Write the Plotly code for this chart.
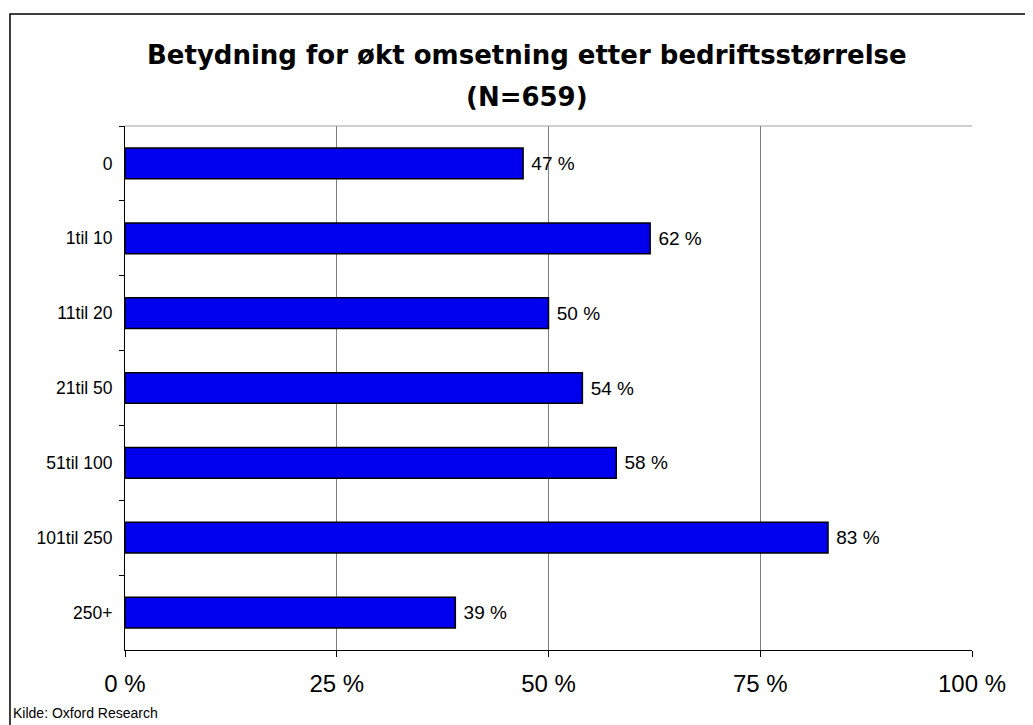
import plotly.graph_objects as go

categories = ["0", "1til 10", "11til 20", "21til 50", "51til 100", "101til 250", "250+"]
values = [47, 62, 50, 54, 58, 83, 39]
x_tickvals = [0, 25, 50, 75, 100]
x_ticktext = ["0 %", "25 %", "50 %", "75 %", "100 %"]
title_line1 = "Betydning for økt omsetning etter bedriftsstørrelse"
title_line2 = "(N=659)"
source_text = "Kilde: Oxford Research"

fig = go.Figure()
fig.add_trace(go.Bar(
    y=categories,
    x=values,
    orientation="h",
    marker=dict(color="#0000EE", line=dict(color="#000000", width=1.5)),
    text=[f" {v} %" for v in values],
    textposition="outside",
    textfont=dict(family="Liberation Sans, Arial", size=19, color="#000000"),
    cliponaxis=False,
    width=0.41,
    hoverinfo="skip",
))

title_font = dict(family="DejaVu Sans", size=26, color="#000000")

fig.update_layout(
    width=1025, height=717,
    margin=dict(l=117, r=61, t=118, b=75),
    paper_bgcolor="white", plot_bgcolor="white",
    showlegend=False,
    font=dict(family="Liberation Sans, Arial", color="#000000"),
    xaxis=dict(range=[0, 100], tickvals=x_tickvals, ticktext=x_ticktext,
               showgrid=True, gridcolor="#808080", gridwidth=1,
               showline=True, linecolor="#000000", linewidth=1,
               ticks="outside", ticklen=6, tickcolor="#000000",
               ticklabelstandoff=6,
               tickfont=dict(size=24), zeroline=False, fixedrange=True),
    yaxis=dict(categoryorder="array", categoryarray=categories, autorange="reversed",
               showline=True, linecolor="#000000", linewidth=1,
               ticks="outside", ticklen=5, tickcolor="#000000", tickson="boundaries",
               ticklabelstandoff=8,
               tickfont=dict(size=17.5), showgrid=False, fixedrange=True),
    shapes=[
        dict(type="line", xref="paper", yref="paper", x0=0, x1=1, y0=1, y1=1,
             line=dict(color="#A0A0A0", width=1)),
        dict(type="rect", xref="paper", yref="paper", x0=-0.1358, x1=1.1, y0=-0.3, y1=1.2137,
             line=dict(color="#000000", width=1.5), fillcolor="rgba(0,0,0,0)", layer="below"),
    ],
    annotations=[
        dict(text=f"<b>{title_line1}</b>", xref="paper", yref="paper", x=0.4746, y=1.1355,
             xanchor="center", yanchor="middle", showarrow=False, font=title_font),
        dict(text=f"<b>{title_line2}</b>", xref="paper", yref="paper", x=0.4746, y=1.0553,
             xanchor="center", yanchor="middle", showarrow=False, font=title_font),
        dict(text=source_text, xref="paper", yref="paper", x=-0.1345, y=-0.1202,
             xanchor="left", yanchor="middle", showarrow=False,
             font=dict(family="Liberation Sans, Arial", size=14, color="#000000")),
    ],
)

fig.write_html("out.html")
